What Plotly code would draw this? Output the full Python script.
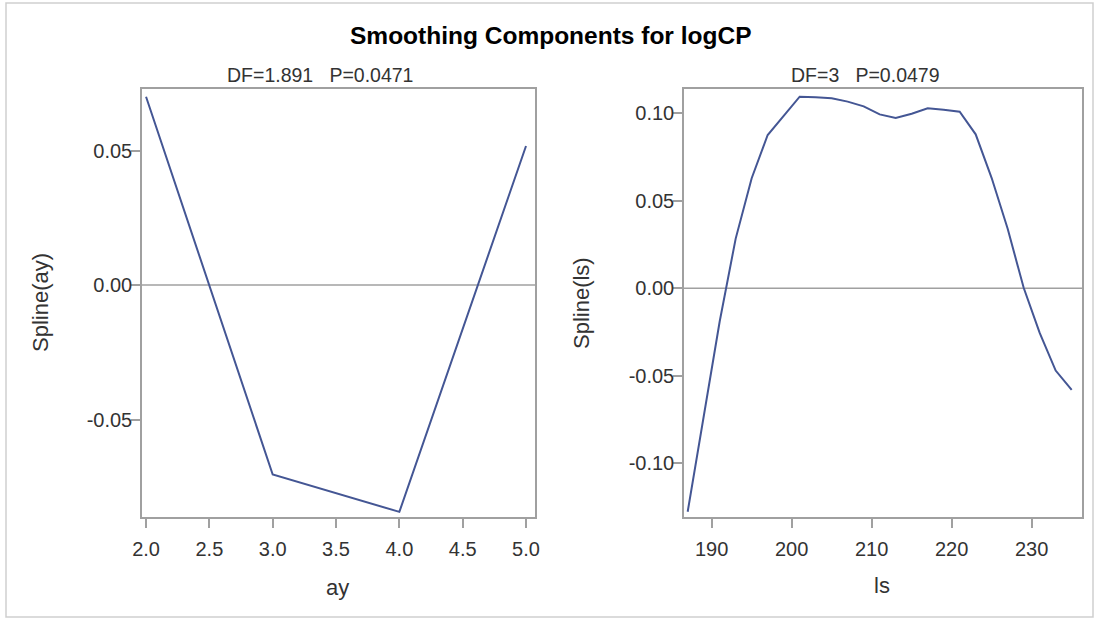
import plotly.graph_objects as go

# ---- data ----
ay_x = [2.0, 3.0, 4.0, 5.0]
ay_spline = [0.0700, -0.0704, -0.0843, 0.0517]

ls_x = [187, 189, 191, 193, 195, 197, 199, 201, 203, 205, 207, 209, 211,
        213, 215, 217, 219, 221, 223, 225, 227, 229, 231, 233, 235]
ls_spline = [-0.1277, -0.0735, -0.0190, 0.0284, 0.0629, 0.0876, 0.0985, 0.1095,
             0.1092, 0.1086, 0.1067, 0.1040, 0.0994, 0.0974, 0.0998, 0.1029,
             0.1020, 0.1009, 0.0880, 0.0630, 0.0340, 0.0003, -0.0255, -0.0470, -0.0581]

title_text = "Smoothing Components for logCP"
sub_left = "DF=1.891   P=0.0471"
sub_right = "DF=3   P=0.0479"
left_xticks = [2.0, 2.5, 3.0, 3.5, 4.0, 4.5, 5.0]
left_yticks = [-0.05, 0.0, 0.05]
right_xticks = [190, 200, 210, 220, 230]
right_yticks = [-0.10, -0.05, 0.0, 0.05, 0.10]

W, H = 1099, 621
L, R, T, B = 142, 1082, 89, 517
PW, PH = R - L, B - T


def px(x):
    return (x - L) / PW


def py(y):
    return (B - y) / PH


LINE = "#445694"
AX = "#A0A0A0"
TXT = "#333333"
FONT = "Liberation Sans, Arial, sans-serif"

fig = go.Figure()
fig.add_trace(go.Scatter(x=ay_x, y=ay_spline, mode="lines",
                         line=dict(color=LINE, width=2), xaxis="x", yaxis="y",
                         showlegend=False))
fig.add_trace(go.Scatter(x=ls_x, y=ls_spline, mode="lines",
                         line=dict(color=LINE, width=2),
                         xaxis="x2", yaxis="y2", showlegend=False))

axcommon = dict(showline=True, linecolor=AX, linewidth=1.5, mirror=True,
                showgrid=False, ticks="outside", ticklen=9, tickcolor=AX,
                tickwidth=1.5, tickfont=dict(family=FONT, size=20, color=TXT),
                zeroline=False)

fig.update_layout(
    width=W, height=621,
    margin=dict(l=L, r=W - R, t=T, b=H - B, pad=0),
    paper_bgcolor="white", plot_bgcolor="white",
    xaxis=dict(domain=[0, px(535)], range=[1.968, 5.071], tickvals=left_xticks,
               ticktext=[f"{v:.1f}" for v in left_xticks], anchor="y",
               ticklabelstandoff=4, **axcommon),
    yaxis=dict(domain=[0, 1], range=[-0.0862, 0.0729], tickvals=left_yticks,
               ticktext=[f"{v:.2f}" for v in left_yticks], anchor="x",
               ticklabelstandoff=-5, **axcommon),
    xaxis2=dict(domain=[px(684), 1], range=[186.54, 236.29], tickvals=right_xticks,
                ticktext=[str(v) for v in right_xticks], anchor="y2",
                ticklabelstandoff=4, **axcommon),
    yaxis2=dict(domain=[0, 1], range=[-0.1307, 0.1139], tickvals=right_yticks,
                ticktext=[f"{v:.2f}" for v in right_yticks], anchor="x2",
                ticklabelstandoff=-5, **axcommon),
)

# zero reference lines
fig.add_shape(type="line", xref="x domain", yref="y", x0=0, x1=1, y0=0, y1=0,
              line=dict(color=AX, width=1.5), layer="below")
fig.add_shape(type="line", xref="x2 domain", yref="y2", x0=0, x1=1, y0=0, y1=0,
              line=dict(color=AX, width=1.5), layer="below")

# outer frame
fig.add_shape(type="rect", xref="paper", yref="paper",
              x0=px(6), x1=px(1093), y0=py(617), y1=py(3),
              line=dict(color="#CFCFCF", width=1.5), fillcolor="rgba(0,0,0,0)")

ann = []
ann.append(dict(text=f"<b>{title_text}</b>", x=px(551), y=py(36), xref="paper", yref="paper",
                showarrow=False, font=dict(family=FONT, size=24.5, color="black"),
                xanchor="center", yanchor="middle"))
ann.append(dict(text=sub_left, x=px(320), y=py(75), xref="paper", yref="paper",
                showarrow=False, font=dict(family=FONT, size=19.5, color=TXT),
                xanchor="center", yanchor="middle"))
ann.append(dict(text=sub_right, x=px(865), y=py(75), xref="paper", yref="paper",
                showarrow=False, font=dict(family=FONT, size=19.5, color=TXT),
                xanchor="center", yanchor="middle"))
ann.append(dict(text="ay", x=px(337), y=py(587), xref="paper", yref="paper",
                showarrow=False, font=dict(family=FONT, size=22, color=TXT),
                xanchor="center", yanchor="middle"))
ann.append(dict(text="ls", x=px(882), y=py(585), xref="paper", yref="paper",
                showarrow=False, font=dict(family=FONT, size=22, color=TXT),
                xanchor="center", yanchor="middle"))
ann.append(dict(text="Spline(ay)", x=px(40), y=py(303), xref="paper", yref="paper",
                showarrow=False, textangle=-90, font=dict(family=FONT, size=22, color=TXT),
                xanchor="center", yanchor="middle"))
ann.append(dict(text="Spline(ls)", x=px(581), y=py(303), xref="paper", yref="paper",
                showarrow=False, textangle=-90, font=dict(family=FONT, size=22, color=TXT),
                xanchor="center", yanchor="middle"))
fig.update_layout(annotations=ann)

fig.write_html("out.html", config={"displayModeBar": False},
               post_script="document.body.style.margin='0px';document.body.style.padding='0px';")
